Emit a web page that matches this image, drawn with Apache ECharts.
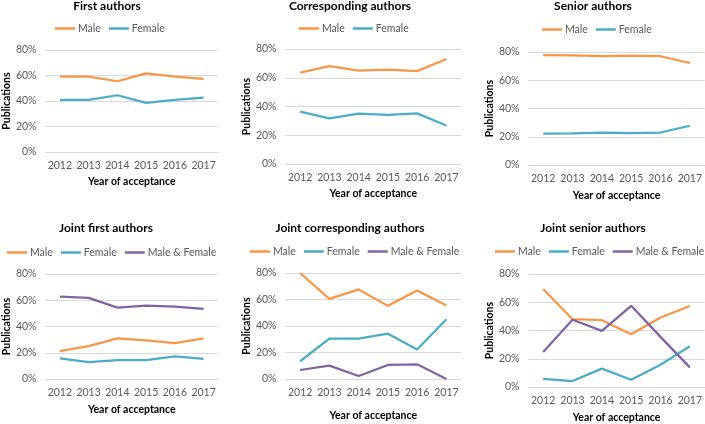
<!DOCTYPE html>
<html><head><meta charset="utf-8">
<script src="https://cdn.jsdelivr.net/npm/echarts@6/dist/echarts.min.js"></script>
<style>html,body{margin:0;padding:0;background:#fff}#c{width:705px;height:424px}</style>
</head><body><div id="c"></div>
<script>
const years = ['2012','2013','2014','2015','2016','2017'];
const yTicks = [0, 20, 40, 60, 80];

const firstMale = [59.2, 59.2, 55.5, 61.7, 59.2, 57.4];
const firstFemale = [40.8, 40.8, 44.5, 38.5, 40.8, 42.6];

const corrMale = [63.6, 68.1, 65.0, 65.7, 64.6, 73.0];
const corrFemale = [36.4, 31.8, 35.0, 34.2, 35.2, 26.8];

const seniorMale = [77.8, 77.6, 77.0, 77.4, 77.0, 72.2];
const seniorFemale = [22.2, 22.4, 23.0, 22.6, 23.0, 27.8];

const jfMale = [21.3, 25.1, 30.9, 29.4, 27.3, 30.9];
const jfFemale = [15.7, 12.9, 14.4, 14.4, 17.2, 15.4];
const jfMF = [62.8, 61.8, 54.4, 55.9, 55.2, 53.4];

const jcMale = [80.0, 60.5, 67.6, 55.2, 66.8, 55.4];
const jcFemale = [13.4, 30.4, 30.4, 34.2, 22.3, 45.1];
const jcMF = [6.8, 10.1, 2.3, 10.6, 11.1, 0];

const jsMale = [69.4, 48.0, 47.3, 37.4, 49.2, 57.3];
const jsFemale = [5.8, 4.2, 13.0, 5.1, 15.8, 28.8];
const jsMF = [24.8, 47.6, 39.7, 57.5, 35.5, 13.9];

const titles = ['First authors','Corresponding authors','Senior authors','Joint first authors','Joint corresponding authors','Joint senior authors'];
const seriesNames = ['Male','Female','Male & Female'];
const colors = {'Male':'#F79646','Female':'#4BACC6','Male & Female':'#8064A2'};

const panels = [
  {data:[firstMale, firstFemale], grid:{left:41.5,top:50,width:176.5,height:102}, title:[107,6], legend:[55,23], nameGap:24},
  {data:[corrMale, corrFemale], grid:{left:285.5,top:49,width:175.5,height:115}, title:[350,6], legend:[299,23], nameGap:24},
  {data:[seniorMale, seniorFemale], grid:{left:528.5,top:52,width:176.5,height:113}, title:[593,6], legend:[542,24], nameGap:25},
  {data:[jfMale, jfFemale, jfMF], grid:{left:41,top:274,width:177,height:105}, title:[106,228], legend:[7,247], nameGap:25},
  {data:[jcMale, jcFemale, jcMF], grid:{left:285.5,top:273,width:175.5,height:106}, title:[350,228], legend:[250,246], nameGap:31},
  {data:[jsMale, jsFemale, jsMF], grid:{left:528.5,top:274,width:176.5,height:115}, title:[593,228], legend:[495,246], nameGap:25}
];

const FONT = 'Lato, "Liberation Sans", sans-serif';
const grid = [], xAxis = [], yAxis = [], series = [], legend = [], graphic = [];
panels.forEach((p, i) => {
  grid.push(Object.assign({containLabel:false}, p.grid));
  xAxis.push({
    type:'category', gridIndex:i, data:years, boundaryGap:true,
    axisLine:{show:true, lineStyle:{color:'#D9D9D9', width:1}},
    axisTick:{show:false},
    axisLabel:{color:'#595959', fontSize:10.5, fontFamily:FONT, margin:8, interval:0},
    name:'Year of acceptance', nameLocation:'middle', nameGap:p.nameGap,
    nameTextStyle:{color:'#000', fontWeight:'bold', fontSize:10.5, fontFamily:FONT}
  });
  yAxis.push({
    type:'value', gridIndex:i, min:yTicks[0], max:yTicks[yTicks.length-1], interval:yTicks[1]-yTicks[0],
    axisLine:{show:false}, axisTick:{show:false},
    splitLine:{show:true, lineStyle:{color:'#D9D9D9', width:1}},
    axisLabel:{color:'#595959', fontSize:10.5, fontFamily:FONT, margin:9, formatter:'{value}%'},
    name:'Publications', nameLocation:'middle', nameGap:31, nameRotate:90,
    nameTextStyle:{color:'#000', fontWeight:'bold', fontSize:10.5, fontFamily:FONT}
  });
  const names = seriesNames.slice(0, p.data.length);
  p.data.forEach((d, k) => {
    series.push({
      type:'line', name:names[k], xAxisIndex:i, yAxisIndex:i, data:d,
      symbol:'none', smooth:false, silent:true,
      lineStyle:{color:colors[names[k]], width:2.25},
      itemStyle:{color:colors[names[k]]}
    });
  });
  legend.push({
    left:p.legend[0], top:p.legend[1], width:400, data:names, orient:'horizontal',
    icon:'rect', itemWidth:20, itemHeight:2.5, itemGap:8, padding:0,
    textStyle:{color:'#595959', fontSize:10.5, fontFamily:FONT, padding:[0,0,0,-2]},
    selectedMode:false
  });
  graphic.push({
    type:'text', x:p.title[0], y:p.title[1],
    style:{text:titles[i], fill:'#000', font:'bold 12px ' + FONT, textAlign:'center', textVerticalAlign:'middle'}
  });
});

const chart = echarts.init(document.getElementById('c'), null, {renderer:'canvas'});
chart.setOption({
  animation:false, backgroundColor:'#fff',
  grid, xAxis, yAxis, series, legend, graphic
});
</script>
</body></html>
